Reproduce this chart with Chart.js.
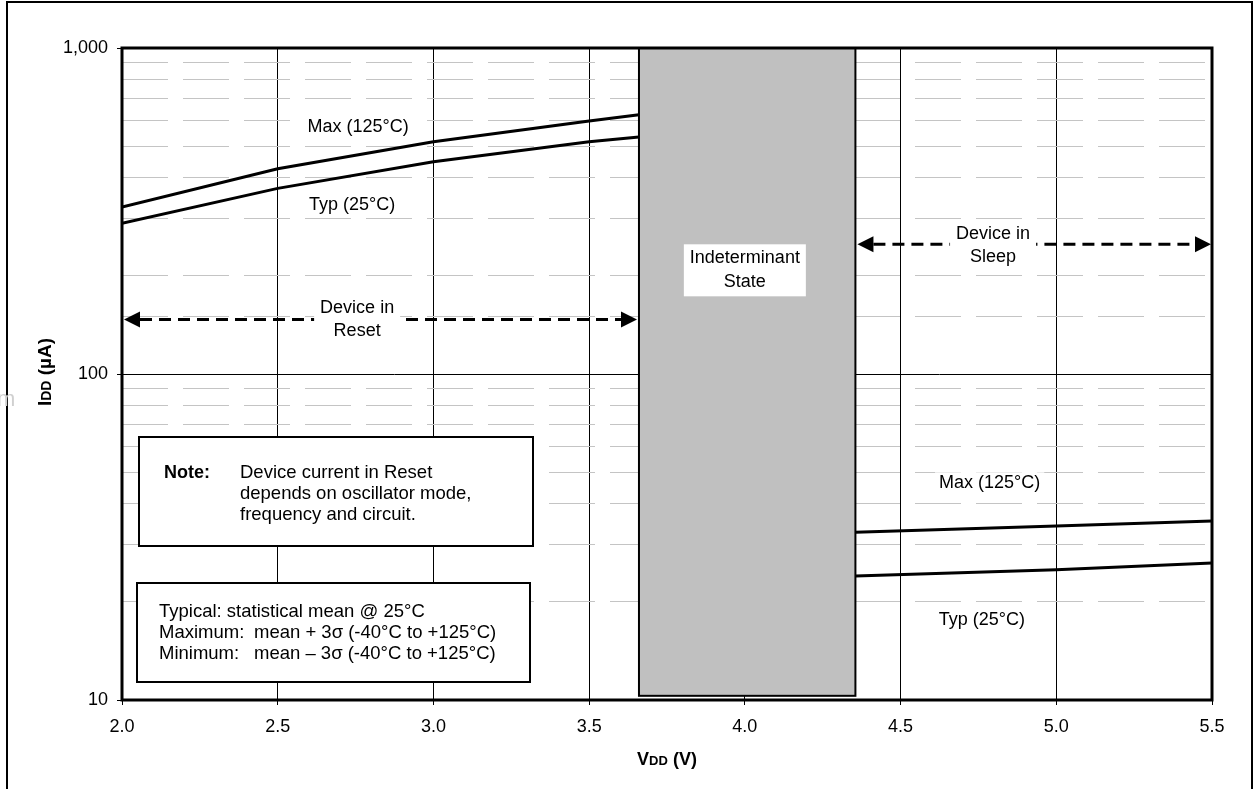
<!DOCTYPE html>
<html>
<head>
<meta charset="utf-8">
<script src="https://cdn.jsdelivr.net/npm/chart.js@4"></script>
<style>
  html, body { margin: 0; padding: 0; background: #fff; }
  #wrap { width: 1255px; height: 789px; }
</style>
</head>
<body>
<div id="wrap"><canvas id="chart" width="1255" height="789"></canvas></div>
<script>
// IDD vs VDD (V, uA)
const resetVdd = [2.0, 2.5, 3.0, 3.5, 3.66];
const resetMax = [325, 426, 516, 597, 624];
const resetTyp = [290, 371, 448, 516, 533];

const sleepVdd = [4.355, 5.0, 5.5];
const sleepMax = [32.7, 34.2, 35.4];
const sleepTyp = [24.0, 25.1, 26.3];

const xTicks = [2.0, 2.5, 3.0, 3.5, 4.0, 4.5, 5.0, 5.5];
const yMajor = [10, 100, 1000];

// indeterminant state band
const bandVdd = [3.66, 4.355];
const bandIdd = [10.3, 1000];

// arrow levels (uA)
const resetArrowIdd = 147;
const sleepArrowIdd = 250;

const FONT = "'Liberation Sans', Arial, sans-serif";

// label anchors in data units [text, V, uA]
const curveLabels = [
  ['Max (125°C)', 2.758, 572],
  ['Typ (25°C)', 2.739, 330],
  ['Max (125°C)', 4.786, 46.2],
  ['Typ (25°C)', 4.761, 17.6]
];

const noteLines = ['Device current in Reset', 'depends on oscillator mode,', 'frequency and circuit.'];

function isMajor(v) {
  const l = Math.log10(v);
  return Math.abs(l - Math.round(l)) < 1e-6;
}

function toPts(xs, ys) {
  return xs.map((x, i) => ({ x: x, y: ys[i] }));
}

function lineSet(xs, ys) {
  return {
    data: toPts(xs, ys),
    showLine: true,
    borderColor: '#000',
    borderWidth: 3,
    pointRadius: 0,
    tension: 0,
    fill: false
  };
}

function whiteLabel(ctx, lines, cx, cy, lh, padX, padY) {
  ctx.font = '18px ' + FONT;
  let w = 0;
  lines.forEach(l => { w = Math.max(w, ctx.measureText(l).width); });
  const h = lines.length * lh;
  ctx.fillStyle = '#fff';
  ctx.fillRect(cx - w / 2 - padX, cy - h / 2 - padY, w + padX * 2, h + padY * 2);
  ctx.fillStyle = '#000';
  ctx.textAlign = 'center';
  ctx.textBaseline = 'middle';
  lines.forEach((l, i) => {
    ctx.fillText(l, cx, cy - h / 2 + lh * (i + 0.5));
  });
}

function dashedArrow(ctx, x1, x2, y) {
  const head = 16;
  ctx.save();
  ctx.strokeStyle = '#000';
  ctx.fillStyle = '#000';
  ctx.lineWidth = 3;
  ctx.setLineDash([12, 7]);
  ctx.beginPath();
  ctx.moveTo(x1 + head, y);
  ctx.lineTo(x2 - head, y);
  ctx.stroke();
  ctx.setLineDash([]);
  ctx.beginPath();
  ctx.moveTo(x1, y); ctx.lineTo(x1 + head, y - 8); ctx.lineTo(x1 + head, y + 8);
  ctx.closePath(); ctx.fill();
  ctx.beginPath();
  ctx.moveTo(x2, y); ctx.lineTo(x2 - head, y - 8); ctx.lineTo(x2 - head, y + 8);
  ctx.closePath(); ctx.fill();
  ctx.restore();
}

function drawRuns(ctx, runs, cx, baseY) {
  let total = 0;
  runs.forEach(r => { ctx.font = r[1]; r.w = ctx.measureText(r[0]).width; total += r.w; });
  let x = cx - total / 2;
  ctx.textAlign = 'left';
  ctx.textBaseline = 'alphabetic';
  runs.forEach(r => { ctx.font = r[1]; ctx.fillText(r[0], x, baseY); x += r.w; });
}

const overlay = {
  id: 'overlay',
  beforeDraw(chart) {
    const ctx = chart.ctx;
    ctx.save();
    ctx.strokeStyle = '#000';
    ctx.lineWidth = 2;
    ctx.strokeRect(7, 2, 1245, 900);
    ctx.fillStyle = '#d0d0d0';
    ctx.font = '22px ' + FONT;
    ctx.textBaseline = 'alphabetic';
    ctx.fillText('m', -3, 406);
    ctx.restore();
  },
  beforeDatasetsDraw(chart) {
    const ctx = chart.ctx;
    const xs = chart.scales.x, ys = chart.scales.y;
    const x0 = xs.getPixelForValue(bandVdd[0]), x1 = xs.getPixelForValue(bandVdd[1]);
    const y0 = ys.getPixelForValue(bandIdd[1]), y1 = ys.getPixelForValue(bandIdd[0]);
    ctx.save();
    ctx.fillStyle = '#c0c0c0';
    ctx.fillRect(x0, y0, x1 - x0, y1 - y0);
    ctx.strokeStyle = '#000';
    ctx.lineWidth = 2;
    ctx.strokeRect(x0, y0, x1 - x0, y1 - y0);
    ctx.restore();
  },
  afterDatasetsDraw(chart) {
    const ctx = chart.ctx;
    const area = chart.chartArea;
    const xs = chart.scales.x, ys = chart.scales.y;
    const bx0 = xs.getPixelForValue(bandVdd[0]), bx1 = xs.getPixelForValue(bandVdd[1]);
    ctx.save();

    // plot frame
    ctx.strokeStyle = '#000';
    ctx.lineWidth = 3;
    ctx.strokeRect(area.left, area.top, area.right - area.left, area.bottom - area.top);

    // region arrows
    const ry = ys.getPixelForValue(resetArrowIdd);
    dashedArrow(ctx, area.left + 2, bx0 - 2, ry);
    whiteLabel(ctx, ['Device in', 'Reset'], xs.getPixelForValue(2.755), ry, 23, 6, 2);

    const sy = ys.getPixelForValue(sleepArrowIdd);
    dashedArrow(ctx, bx1 + 2, area.right - 1, sy);
    whiteLabel(ctx, ['Device in', 'Sleep'], xs.getPixelForValue(4.797), sy + 1, 23, 6, 2);

    // indeterminant state box
    const ic = xs.getPixelForValue(4.0), iy = ys.getPixelForValue(208);
    ctx.fillStyle = '#fff';
    ctx.fillRect(ic - 61, iy - 26, 122, 52);
    ctx.fillStyle = '#000';
    ctx.font = '18px ' + FONT;
    ctx.textAlign = 'center';
    ctx.textBaseline = 'middle';
    ctx.fillText('Indeterminant', ic, iy - 12);
    ctx.fillText('State', ic, iy + 12);

    // curve labels
    curveLabels.forEach(c => {
      whiteLabel(ctx, [c[0]], xs.getPixelForValue(c[1]), ys.getPixelForValue(c[2]), 22, 4, 0);
    });

    // note box
    ctx.fillStyle = '#fff';
    ctx.fillRect(139, 437, 394, 109);
    ctx.lineWidth = 2;
    ctx.strokeRect(139, 437, 394, 109);
    ctx.fillStyle = '#000';
    ctx.textAlign = 'left';
    ctx.textBaseline = 'middle';
    ctx.font = 'bold 18px ' + FONT;
    ctx.fillText('Note:', 164, 473);
    ctx.font = '18.5px ' + FONT;
    noteLines.forEach((l, i) => ctx.fillText(l, 240, 473 + i * 21.2));

    // legend box
    ctx.fillStyle = '#fff';
    ctx.fillRect(137, 583, 393, 99);
    ctx.strokeRect(137, 583, 393, 99);
    ctx.fillStyle = '#000';
    ctx.fillText('Typical: statistical mean @ 25°C', 159, 612);
    ctx.fillText('Maximum:', 159, 633);
    ctx.fillText('mean + 3σ (-40°C to +125°C)', 254, 633);
    ctx.fillText('Minimum:', 159, 654);
    ctx.fillText('mean – 3σ (-40°C to +125°C)', 254, 654);

    // axis titles
    drawRuns(ctx, [['V', 'bold 18px ' + FONT], ['DD', 'bold 13px ' + FONT], [' (V)', 'bold 18px ' + FONT]],
      (area.left + area.right) / 2, 765);
    ctx.translate(51, (area.top + area.bottom) / 2 - 2);
    ctx.rotate(-Math.PI / 2);
    drawRuns(ctx, [['I', 'bold 19px ' + FONT], ['DD', 'bold 14px ' + FONT], [' (µA)', 'bold 19px ' + FONT]], 0, 0);

    ctx.restore();
  }
};

new Chart(document.getElementById('chart').getContext('2d'), {
  type: 'scatter',
  data: {
    datasets: [
      lineSet(resetVdd, resetMax),
      lineSet(resetVdd, resetTyp),
      lineSet(sleepVdd, sleepMax),
      lineSet(sleepVdd, sleepTyp)
    ]
  },
  options: {
    responsive: false,
    maintainAspectRatio: false,
    devicePixelRatio: 1,
    animation: false,
    layout: { padding: { left: 0, top: 48, right: 43, bottom: 0 } },
    plugins: {
      legend: { display: false },
      tooltip: { enabled: false }
    },
    scales: {
      x: {
        type: 'linear',
        min: xTicks[0],
        max: xTicks[xTicks.length - 1],
        afterBuildTicks: (scale) => { scale.ticks = xTicks.map(v => ({ value: v })); },
        afterFit: (scale) => { scale.height = 89; },
        border: { display: false },
        grid: { color: '#000', lineWidth: 1, tickLength: 5, tickColor: '#000' },
        ticks: {
          padding: 11,
          color: '#000',
          font: { family: FONT, size: 18 },
          callback: (v) => Number(v).toFixed(1)
        }
      },
      yMinor: {
        type: 'logarithmic',
        position: 'left',
        min: yMajor[0],
        max: yMajor[yMajor.length - 1],
        afterFit: (scale) => { scale.width = 0; },
        border: { display: false, dash: [46, 15] },
        grid: {
          drawTicks: false,
          lineWidth: 1,
          color: (c) => (c.tick && !isMajor(c.tick.value)) ? '#c4c4c4' : 'rgba(0,0,0,0)'
        },
        ticks: { display: false }
      },
      y: {
        type: 'logarithmic',
        position: 'left',
        min: yMajor[0],
        max: yMajor[yMajor.length - 1],
        afterFit: (scale) => { scale.width = 122; },
        border: { display: false },
        grid: {
          lineWidth: 1,
          tickLength: 5,
          color: (c) => (c.tick && isMajor(c.tick.value)) ? '#000' : 'rgba(0,0,0,0)',
          tickColor: (c) => (c.tick && isMajor(c.tick.value)) ? '#000' : 'rgba(0,0,0,0)'
        },
        ticks: {
          autoSkip: false,
          padding: 9,
          color: '#000',
          font: { family: FONT, size: 18 },
          callback: (v) => isMajor(v) ? Number(v).toLocaleString('en-US') : ''
        }
      }
    }
  },
  plugins: [overlay]
});
</script>
</body>
</html>
